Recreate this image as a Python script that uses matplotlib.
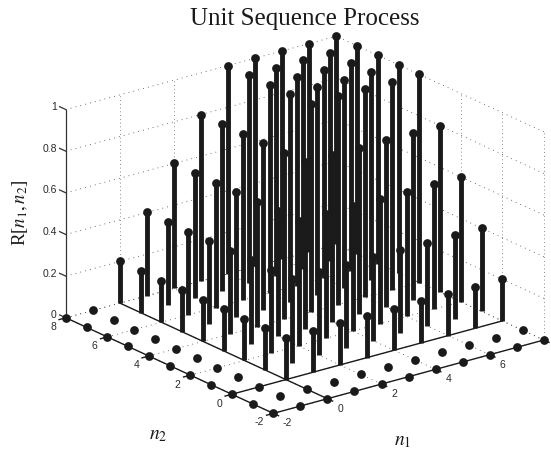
import numpy as np
import matplotlib
matplotlib.use("Agg")
import matplotlib.pyplot as plt
from mpl_toolkits.mplot3d import proj3d

n1_values = [-2, -1, 0, 1, 2, 3, 4, 5, 6, 7, 8]
n2_values = [-2, -1, 0, 1, 2, 3, 4, 5, 6, 7, 8]
# R[n1, n2]: rows follow n1_values, columns follow n2_values
R_values = [
    [0, 0, 0.0, 0.0, 0.0, 0.0, 0.0, 0.0, 0.0, 0.0, 0.0],
    [0, 0, 0.0, 0.0, 0.0, 0.0, 0.0, 0.0, 0.0, 0.0, 0.0],
    [0, 0, 0.2, 0.2, 0.2, 0.2, 0.2, 0.2, 0.2, 0.2, 0.2],
    [0, 0, 0.2, 0.4, 0.4, 0.4, 0.4, 0.4, 0.4, 0.4, 0.4],
    [0, 0, 0.2, 0.4, 0.6, 0.6, 0.6, 0.6, 0.6, 0.6, 0.6],
    [0, 0, 0.2, 0.4, 0.6, 0.8, 0.8, 0.8, 0.8, 0.8, 0.8],
    [0, 0, 0.2, 0.4, 0.6, 0.8, 1.0, 1.0, 1.0, 1.0, 1.0],
    [0, 0, 0.2, 0.4, 0.6, 0.8, 1.0, 1.0, 1.0, 1.0, 1.0],
    [0, 0, 0.2, 0.4, 0.6, 0.8, 1.0, 1.0, 1.0, 1.0, 1.0],
    [0, 0, 0.2, 0.4, 0.6, 0.8, 1.0, 1.0, 1.0, 1.0, 1.0],
    [0, 0, 0.2, 0.4, 0.6, 0.8, 1.0, 1.0, 1.0, 1.0, 1.0],
]
n1_ticks = [-2, 0, 2, 4, 6, 8]
n1_labels = ["-2", "0", "2", "4", "6", ""]
n2_ticks = [-2, 0, 2, 4, 6, 8]
n2_labels = ["-2", "0", "2", "4", "6", "8"]
z_ticks = [0, 0.2, 0.4, 0.6, 0.8, 1]
z_labels = ["0", "0.2", "0.4", "0.6", "0.8", "1"]

INK = "#1a1a1a"
plt.rcParams["mathtext.fontset"] = "stix"
W, H = 551, 451
fig = plt.figure(figsize=(W / 100, H / 100), dpi=100, facecolor="white")
L = 515.5
ax = fig.add_axes([40.1 / W, -38.5 / H, L / W, L / H], projection="3d",
                  proj_type="ortho")
ax.view_init(elev=20.7, azim=-127.5)
ax.set_box_aspect((1, 1, 0.653), zoom=1.0)
ax.set_xlim(-2, 8)
ax.set_ylim(-2, 8)
ax.set_zlim(0, 1)
ax.set_axis_off()
ax.patch.set_alpha(0)

x0, x1, y0, y1 = -2, 8, -2, 8
dot = dict(color="#444444", lw=0.6, ls=(0, (1, 5)), zorder=1)
dotv = dict(color="#666666", lw=0.6, ls=(0, (1, 3.5)), zorder=1)

# back walls and floor grid
for z in z_ticks:
    ax.plot([x0, x1], [y1, y1], [z, z], **dot)
    ax.plot([x1, x1], [y0, y1], [z, z], **dot)
for t in n1_ticks:
    ax.plot([t, t], [y1, y1], [0, 1], **dotv)
    ax.plot([t, t], [y0, y1], [0, 0], **dot)
for t in n2_ticks:
    ax.plot([x1, x1], [t, t], [0, 1], **dotv)
    ax.plot([x0, x1], [t, t], [0, 0], **dot)

# baselines and box edges
solid = dict(color=INK, lw=1.0, zorder=2)
ax.plot([0, 0], [y0, y1], [0, 0], **solid)
ax.plot([x0, x1], [0, 0], [0, 0], **solid)
ax.plot([x0, x1], [y0, y0], [0, 0], **solid)
ax.plot([x0, x0], [y0, y1], [0, 0], **solid)
ax.plot([x0, x0], [y1, y1], [0, 1], color="#333333", lw=0.9, zorder=2)

# stems and dots
R = np.array(R_values)
for i, n1 in enumerate(n1_values):
    for j, n2 in enumerate(n2_values):
        v = R[i, j]
        if v > 0:
            ax.plot([n1, n1], [n2, n2], [0, v], color=INK, lw=3.5, zorder=3,
                    solid_capstyle="butt")
        ax.plot([n1], [n2], [v], color=INK, marker="o", ms=6.3, mew=0,
                ls="none", zorder=4)

# ticks and tick labels: placed through the 3D axes' own projection
fig.canvas.draw()
M = ax.get_proj()


def label(x, y, z, s, **kw):
    px, py, _ = proj3d.proj_transform(x, y, z, M)
    fx, fy = fig.transFigure.inverted().transform(ax.transData.transform((px, py)))
    fig.text(fx, fy, s, family="Liberation Sans", fontsize=7.5, color="#2a2a2a",
             va="center", **kw)


for t, s in zip(n1_ticks, n1_labels):
    ax.plot([t, t], [y0, y0 - 0.25], [0, 0], **solid)
    if s:
        label(t + 0.47 + (0.05 if t < 0 else 0), y0, -0.065, s, ha="center")
for t, s in zip(n2_ticks, n2_labels):
    ax.plot([x0, x0 - 0.25], [t, t], [0, 0], **solid)
    label(x0, t + 0.61 + (0.07 if t < 0 else 0), -0.0735, s, ha="center")
for z, s in zip(z_ticks, z_labels):
    ax.plot([x0, x0], [y1, y1 + 0.3], [z, z], color="#333333", lw=0.9, zorder=2)
    label(x0, y1 + 0.435, z - 0.0075, s, ha="right")

serif = "Liberation Serif"
fig.text(305 / W, 1 - 25 / H, "Unit Sequence Process", family=serif, fontsize=18,
         ha="center", va="baseline", color=INK)
fig.text(20 / W, 1 - 213 / H, r"R[$\mathit{n}_1,\mathit{n}_2$]", family=serif,
         fontsize=13.5, rotation=90, ha="center", va="center", color=INK)
fig.text(158 / W, 1 - 435 / H, r"$\mathit{n}_2$", fontsize=14, ha="center",
         va="center", color=INK)
fig.text(403 / W, 1 - 440 / H, r"$\mathit{n}_1$", fontsize=14, ha="center",
         va="center", color=INK)

fig.savefig("out.png", dpi=100)
